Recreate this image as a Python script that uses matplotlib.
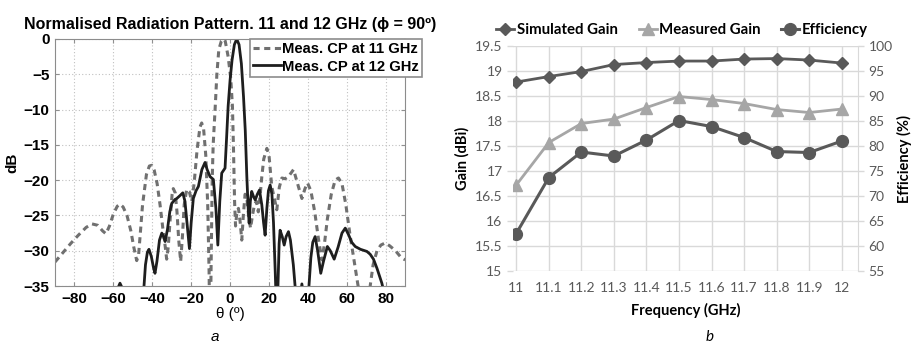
import matplotlib.pyplot as plt
import numpy as np

# ---- data: (a) normalised radiation pattern ----
theta_11 = [-90, -86, -82, -78, -74, -71, -68, -65.5, -63.8, -62, -60, -58, -56.6, -55, -53, -51,
            -49.5, -48, -47, -46, -45, -43, -41.5, -40.3, -39, -37.5, -36, -34.5, -33.3, -32.6,
            -31.8, -30.8, -29.8, -29.2, -28.2, -27.3, -26.4, -25.4, -24.5, -23.6, -22.3, -21, -19.7,
            -18.5, -17, -15.5, -14.6, -13.6, -12.5, -11.5, -10.8, -10.3, -9.8, -9.2, -8.7, -7.7,
            -6.8, -5.8, -4.5, -3.5, -2.5, -1, 0.3, 1.2, 1.7, 2.0, 2.3, 2.8, 3.5, 4.3, 5.2, 6.0,
            6.8, 7.7, 8.6, 9.5, 10.5, 11.5, 12.5, 13.5, 14.5, 15.5, 16.3, 17.3, 18.9, 20, 21.4,
            24, 25.3, 26.6, 28.3, 30, 32.6, 35.1, 36.9, 38.5, 39.8, 41.5, 43.5, 45.5, 47.2, 48.5,
            50, 52, 54, 55.7, 57.5, 59.5, 61.5, 63.5, 65.5, 67, 69, 71, 72, 73.5, 75.5, 77.5,
            79.7, 82, 85, 88, 90]
db_11 = [-31.6, -30.3, -29.0, -27.8, -26.7, -26.2, -26.4, -27.2, -27.6, -26.5, -24.8, -23.7, -23.4,
         -23.8, -25.0, -27.2, -29.5, -31.4, -30.5, -27.0, -23.5, -19.2, -18.0, -17.9, -18.6, -20.5,
         -23.5, -27.0, -29.5, -31.2, -29.5, -25.5, -22.0, -21.2, -21.8, -24.5, -28.5, -31.5, -28.0,
         -23.5, -21.3, -21.6, -23.0, -20.5, -15.8, -12.5, -11.9, -12.8, -16.5, -23.5, -33, -45,
         -33, -20, -15, -9.9, -5, -1.5, -0.3, 0, -0.3, -2.5, -5.5, -9.5, -15, -19, -23, -26.5,
         -24.5, -24, -26, -28.5, -25, -22, -22.5, -25, -26.8, -25, -23.5, -23, -24.5, -22, -19.5,
         -17, -15.5, -16.5, -20.9, -24.2, -21, -19.7, -19.8, -19.5, -18.5, -20.9, -22.6, -21.2,
         -20.4, -21.5, -24.5, -28.5, -31.3, -29, -25.5, -22, -20, -19.7, -20.5, -23.5, -27.5,
         -31, -34.5, -37, -40, -37, -35, -32, -30, -29.2, -28.9, -29.3, -30, -31, -31.3]

theta_12 = [-90, -60, -57.5, -56.6, -55.6, -53, -46, -44.5, -43.5, -42.5, -41.7, -40.5, -39.3, -38.6,
            -37.6, -36.3, -35.1, -34.2, -33.4, -32.2, -31, -30, -28.5, -27.4, -25.8, -24.3, -23.2,
            -22, -20.9, -20, -18.9, -17.5, -16.3, -14.5, -12.9, -11.8, -10.3, -8.6, -7.3, -6.3,
            -5.3, -4.3, -2.6, -1.8, -1, 0, 1, 2.2, 3.4, 4.6, 5.8, 6.9, 7.8, 8.6, 9.3, 9.8, 10.4,
            11.1, 12, 12.9, 14, 15.1, 16.3, 17.2, 18, 18.9, 19.7, 20.6, 21.5, 22.3, 23.2, 24,
            24.6, 25.2, 25.7, 26.8, 27.8, 28.8, 30, 31, 32.5, 34, 35.5, 36.9, 38, 40.3, 41.5,
            42.5, 43.7, 45, 46.6, 48, 50, 51.5, 53.5, 55.5, 57.5, 59.2, 61, 62.5, 64.3, 67,
            70.3, 72, 73.7, 75.5, 78, 80, 82]
db_12 = [-45, -40, -35.2, -34.6, -35.2, -40, -42, -36, -32, -30.2, -29.8, -30.8, -32.5, -33.2,
         -31.5, -28.5, -27.5, -28, -28.7, -27, -24.5, -23.3, -22.8, -22.6, -22.2, -21.8, -23,
         -26.5, -29.7, -26, -22.6, -21.5, -20.9, -18.5, -17.5, -18.5, -19.5, -19.9, -24, -29.2,
         -23, -19.0, -18.3, -14, -9.5, -5.8, -3, -0.8, 0, -0.8, -3.5, -8.2, -13, -19.5, -24,
         -26.1, -23, -21.6, -22.3, -22.8, -22, -21.4, -23.5, -26, -27.8, -24, -21.5, -20.7, -22,
         -26, -33, -40, -35, -29, -27.1, -28, -29.2, -28, -27.3, -28.5, -32, -37, -38, -34.7,
         -37, -36, -31, -28.8, -28, -30, -33.2, -31.5, -29.4, -30, -31.2, -29.5, -27.5, -26.8,
         -27.8, -28.8, -29.4, -29.8, -30.1, -30.5, -31.2, -32.5, -34.6, -37, -40]

# ---- data: (b) gain and efficiency ----
freq = [11, 11.1, 11.2, 11.3, 11.4, 11.5, 11.6, 11.7, 11.8, 11.9, 12]
sim_gain = [18.78, 18.89, 18.99, 19.13, 19.17, 19.20, 19.20, 19.24, 19.25, 19.22, 19.16]
meas_gain = [16.72, 17.57, 17.95, 18.04, 18.27, 18.49, 18.43, 18.35, 18.23, 18.17, 18.24]
efficiency = [62.5, 73.7, 78.8, 78.0, 81.2, 85.1, 83.9, 81.7, 78.9, 78.7, 81.0]

fig = plt.figure(figsize=(9.12, 3.45), dpi=100)

# ---------------- panel a ----------------
plt.rcParams['font.family'] = ['Liberation Sans', 'DejaVu Sans']
ax1 = fig.add_axes([0.0603, 0.171, 0.384, 0.716])
ax1.plot(theta_11, db_11, linestyle=(0, (2.0, 1.5)), color='#707070', linewidth=2.2,
         label='Meas. CP at 11 GHz')
ax1.plot(theta_12, db_12, color='#1e1e1e', linewidth=2.0, label='Meas. CP at 12 GHz')
ax1.set_xlim(-90, 90)
ax1.set_ylim(-35, 0)
ax1.set_xticks(np.arange(-80, 81, 20))
ax1.set_yticks(np.arange(-35, 1, 5))
ax1.grid(True, linestyle=(0, (1, 2)), color='#c0c0c0', linewidth=0.8)
ax1.tick_params(direction='in', top=True, right=True, labelsize=11, length=3,
                color='#909090', pad=4)
for lab in ax1.get_xticklabels() + ax1.get_yticklabels():
    lab.set_fontweight('bold')
for s in ax1.spines.values():
    s.set_color('#8c8c8c')
ax1.set_title('Normalised Radiation Pattern. 11 and 12 GHz (\u03d5 = 90\u00ba)',
              fontsize=11.5, fontweight='bold', pad=7)
ax1.set_xlabel('\u03b8 (\u00ba)', fontsize=11, labelpad=1)
ax1.set_ylabel('dB', fontsize=11, fontweight='bold', labelpad=3)
leg = ax1.legend(loc='upper right', bbox_to_anchor=(1.048, 1.0), borderaxespad=0,
                 fancybox=False, framealpha=1, edgecolor='#8c8c8c',
                 prop={'weight': 'bold', 'size': 10.6}, handlelength=1.9,
                 handletextpad=0.1, borderpad=0.2, labelspacing=0.25)
leg.get_frame().set_linewidth(1.2)

# ---------------- panel b ----------------
ax2 = fig.add_axes([0.5625, 0.2145, 0.3783, 0.652])
ax3 = ax2.twinx()
grey = '#595959'
l1, = ax2.plot(freq, sim_gain, color=grey, linewidth=2, marker='D', markersize=6,
               label='Simulated Gain')
l2, = ax2.plot(freq, meas_gain, color='#a6a6a6', linewidth=2, marker='^', markersize=8,
               label='Measured Gain')
l3, = ax3.plot(freq, efficiency, color=grey, linewidth=2.2, marker='o', markersize=8.5,
               label='Efficiency')
ax2.set_xlim(10.99, 12.05)
ax2.set_ylim(15, 19.5)
ax3.set_ylim(55, 100)
ax2.set_xticks(freq)
ax2.set_xticklabels([f'{f:g}' for f in freq])
ax2.set_yticks(np.arange(15, 19.51, 0.5))
ax2.set_yticklabels([f'{v:g}' for v in np.arange(15, 19.51, 0.5)])
ax3.set_yticks(np.arange(55, 101, 5))
ax2.grid(True, color='#d9d9d9', linewidth=1.0)
ax2.set_axisbelow(True)
for a in (ax2, ax3):
    for s in a.spines.values():
        s.set_visible(False)
    a.tick_params(labelsize=10, labelcolor=grey, color='#d9d9d9', length=4, width=1)
ax2.tick_params(axis='x', length=0, pad=8)
ax3.spines['right'].set_visible(True)
ax3.spines['right'].set_color('#d9d9d9')
ax2.set_xlabel('Frequency (GHz)', fontsize=10.5, fontweight='bold', family='Lato',
               labelpad=6)
ax2.set_ylabel('Gain (dBi)', fontsize=10.5, fontweight='bold', family='Lato', labelpad=4)
ax3.set_ylabel('Efficiency (%)', fontsize=10.5, fontweight='bold', family='Lato',
               labelpad=3)
for lab in ax2.get_xticklabels() + ax2.get_yticklabels() + ax3.get_yticklabels():
    lab.set_family('Lato')
ax2.legend(handles=[l1, l2, l3], loc='lower center', bbox_to_anchor=(0.49, 1.0), ncol=3,
           frameon=False, prop={'family': 'Lato', 'weight': 'bold', 'size': 10.8},
           handlelength=1.2, handletextpad=0.15, columnspacing=1.4, borderaxespad=0.2)

# captions
fig.text(215 / 912, 1 - 337 / 345, 'a', fontsize=11, style='italic', ha='center', va='center')
fig.text(710 / 912, 1 - 337 / 345, 'b', fontsize=11, style='italic', ha='center', va='center',
         family='Lato')

fig.savefig('out.png', dpi=100)
